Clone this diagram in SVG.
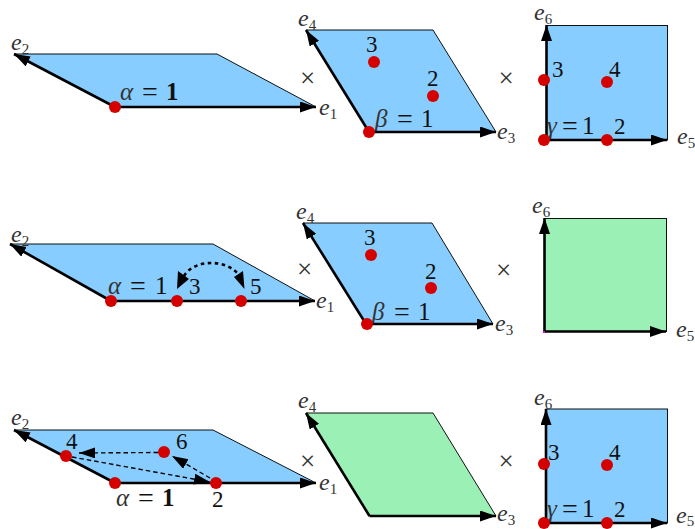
<svg xmlns="http://www.w3.org/2000/svg" width="695" height="529" viewBox="0 0 695 529">
<style>
text{font-family:"Liberation Serif","Times New Roman",serif;fill:#111}
.e{font-size:24px;font-style:italic;fill:#333}
.e tspan{font-size:15px;font-style:normal}
.n{font-size:23px}
.m{font-size:25px;fill:#111}
.m .g{font-style:italic;font-size:25px;fill:#333}
.m .q{font-size:28px}
.m .b{font-weight:bold}
.x{font-size:27px;fill:#333;text-anchor:middle}
.blue{fill:#87cdff;stroke:#111;stroke-width:1}
.green{fill:#9bf0b5;stroke:#111;stroke-width:1}
.d{fill:#d40000}
.ax{stroke:#000;stroke-width:2.6;fill:none;marker-end:url(#a)}
.da{stroke:#000;stroke-width:1.4;stroke-dasharray:4.5 3;fill:none;marker-end:url(#s)}
.arc{stroke:#000;stroke-width:2.6;stroke-dasharray:3.5 3.5;fill:none}
</style>
<defs>
<marker id="a" markerUnits="userSpaceOnUse" markerWidth="17" markerHeight="12" refX="16" refY="5.5" orient="auto"><path d="M0 0L16 5.500L0 11z" fill="#000"/></marker>
<marker id="s" markerUnits="userSpaceOnUse" markerWidth="17" markerHeight="12" refX="16" refY="5.5" orient="auto"><path d="M0 0L16 5.500L0 11z" fill="#000"/></marker>
</defs>

<g id="row1-alpha">
<polygon class="blue" points="115,107 316,107 217,54 14,54"/>
<text class="m" y="100"><tspan class="g" x="120">α</tspan><tspan class="q" x="142" dy="1">=</tspan><tspan class="b" x="166" dy="-1">1</tspan></text>
<text class="e" x="319" y="115">e<tspan dy="3.500">1</tspan></text>
<text class="e" x="11" y="50">e<tspan dy="3.500">2</tspan></text>
</g>
<g id="row1-beta">
<polygon class="blue" points="369,132 496,132 433,30 306,30"/>
<text class="n" x="366" y="52">3</text>
<text class="n" x="427" y="86">2</text>
<text class="m" y="127"><tspan class="g" x="375">β</tspan><tspan class="q" x="397" dy="1">=</tspan><tspan x="421" dy="-1">1</tspan></text>
<text class="e" x="497" y="139">e<tspan dy="3.500">3</tspan></text>
<text class="e" x="298" y="26">e<tspan dy="3.500">4</tspan></text>
</g>
<g id="row1-gamma">
<rect class="blue" x="546.500" y="25.500" width="121" height="114.500"/>
<text class="n" x="552" y="77">3</text>
<text class="n" x="609" y="77">4</text>
<text class="n" x="614" y="134">2</text>
<text class="m" y="134"><tspan class="g" x="547">γ</tspan><tspan class="q" x="562" dy="1">=</tspan><tspan x="582" dy="-1">1</tspan></text>
<text class="e" x="677" y="144">e<tspan dy="3.500">5</tspan></text>
<text class="e" x="534" y="20">e<tspan dy="3.500">6</tspan></text>
</g>
<g id="row2-alpha">
<polygon class="blue" points="111,301 315,301 213,244 10,244"/>
<text class="m" y="294"><tspan class="g" x="108">α</tspan><tspan class="q" x="130" dy="1">=</tspan><tspan x="155" dy="-1">1</tspan></text>
<text class="n" x="189" y="294">3</text>
<text class="n" x="250" y="294">5</text>
<text class="e" x="316" y="308">e<tspan dy="3.500">1</tspan></text>
<text class="e" x="11" y="242">e<tspan dy="3.500">2</tspan></text>
</g>
<g id="row2-beta">
<polygon class="blue" points="366,324 493,324 432,223 303,223"/>
<text class="n" x="364" y="245">3</text>
<text class="n" x="425" y="279">2</text>
<text class="m" y="320"><tspan class="g" x="372">β</tspan><tspan class="q" x="394" dy="1">=</tspan><tspan x="418" dy="-1">1</tspan></text>
<text class="e" x="495" y="331">e<tspan dy="3.500">3</tspan></text>
<text class="e" x="296" y="219">e<tspan dy="3.500">4</tspan></text>
</g>
<g id="row2-gamma">
<rect class="green" x="544.500" y="218.500" width="122" height="113"/>
<text class="e" x="676" y="337">e<tspan dy="3.500">5</tspan></text>
<text class="e" x="532" y="213">e<tspan dy="3.500">6</tspan></text>
</g>
<g id="row3-alpha">
<polygon class="blue" points="115,483 316,483 213,430 14,430"/>
<text class="n" x="66" y="449">4</text>
<text class="n" x="176" y="449">6</text>
<text class="n" x="212" y="507">2</text>
<text class="m" y="506"><tspan class="g" x="116">α</tspan><tspan class="q" x="138" dy="1">=</tspan><tspan class="b" x="162" dy="-1">1</tspan></text>
<text class="e" x="319" y="490">e<tspan dy="3.500">1</tspan></text>
<text class="e" x="11" y="425">e<tspan dy="3.500">2</tspan></text>
</g>
<g id="row3-beta">
<polygon class="green" points="369.500,516 496,516 433,413 306,413"/>
<text class="e" x="497" y="521">e<tspan dy="3.500">3</tspan></text>
<text class="e" x="298" y="408">e<tspan dy="3.500">4</tspan></text>
</g>
<g id="row3-gamma">
<rect class="blue" x="546" y="409" width="121.500" height="114"/>
<text class="n" x="548" y="460">3</text>
<text class="n" x="609" y="460">4</text>
<text class="n" x="614" y="517">2</text>
<text class="m" y="517"><tspan class="g" x="547">γ</tspan><tspan class="q" x="562" dy="1">=</tspan><tspan x="582" dy="-1">1</tspan></text>
<text class="e" x="676" y="523">e<tspan dy="3">5</tspan></text>
<text class="e" x="534" y="405">e<tspan dy="3.500">6</tspan></text>
</g>
<g id="times">
<text class="x" x="307.500" y="87">×</text><text class="x" x="506" y="87">×</text>
<text class="x" x="304.500" y="278">×</text><text class="x" x="503.500" y="279">×</text>
<text class="x" x="307.500" y="470">×</text><text class="x" x="506" y="470">×</text>
</g>
<g id="connectors">
<path class="ax" d="M115 107L316 107"/><path class="ax" d="M115 107L14 54"/>
<path class="ax" d="M369 132L496 132"/><path class="ax" d="M369 132L306 30"/>
<path class="ax" d="M546.500 140L667 140"/><path class="ax" d="M546.500 140L546.500 25"/>
<path class="ax" d="M111 301L315 301"/><path class="ax" d="M111 301L10 244"/>
<path class="ax" d="M366 324L493 324"/><path class="ax" d="M366 324L303 223"/>
<path class="ax" d="M544.500 331.500L666 331.500"/><path class="ax" d="M544.500 331.500L544.500 218"/>
<path class="ax" d="M115 483L316 483"/><path class="ax" d="M115 483L14 430"/>
<path class="ax" d="M369.500 516L496 516"/><path class="ax" d="M369.500 516L306 413"/>
<path class="ax" d="M546 523L667 523"/><path class="ax" d="M546 523L546 409"/>
<path class="arc" d="M184 276C194 259 226 259 238 274"/>
<path d="M177 289L178 271L189 279z" fill="#000"/>
<path d="M244.500 289L234 277L243 271z" fill="#000"/>
<path class="da" d="M72 457L210 482"/>
<path class="da" d="M158 452.500L79 453"/>
<path class="da" d="M210 478L172 456"/>
</g>
<g id="points" class="d">
<circle cx="115" cy="107" r="6"/>
<circle cx="369" cy="132" r="6"/><circle cx="374" cy="62" r="6"/><circle cx="433" cy="96" r="6"/>
<circle cx="544" cy="140" r="6"/><circle cx="607" cy="140" r="6"/><circle cx="544" cy="80" r="6"/><circle cx="607" cy="82" r="6"/>
<circle cx="111" cy="301" r="6"/><circle cx="177" cy="301" r="6"/><circle cx="241" cy="301" r="6"/>
<circle cx="367" cy="324" r="6"/><circle cx="371" cy="255" r="6"/><circle cx="431" cy="288" r="6"/>
<circle cx="115" cy="483" r="6"/><circle cx="66" cy="456" r="6"/><circle cx="164" cy="452" r="6"/><circle cx="216" cy="483" r="6"/>
<circle cx="544" cy="523" r="6"/><circle cx="607" cy="523" r="6"/><circle cx="544" cy="464" r="6"/><circle cx="607" cy="465" r="6"/>
</g>
<rect x="543" y="331" width="2" height="2" fill="#e000e0"/>
</svg>
